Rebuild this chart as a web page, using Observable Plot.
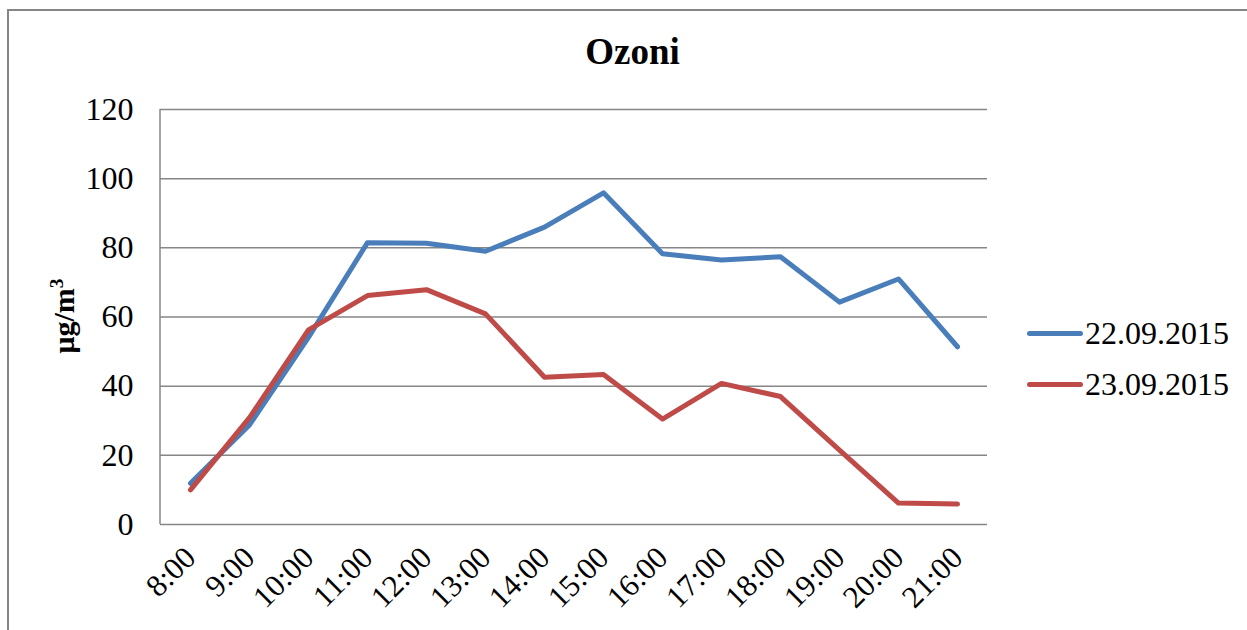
<!DOCTYPE html>
<html>
<head>
<meta charset="utf-8">
<script src="https://cdn.jsdelivr.net/npm/d3@7"></script>
<script src="https://cdn.jsdelivr.net/npm/@observablehq/plot@0.6"></script>
<style>
  html, body { margin: 0; padding: 0; background: #fff; }
  #wrap { position: relative; width: 1247px; height: 630px; overflow: hidden; font-family: "Liberation Serif", "Times New Roman", serif; }
  #border { position: absolute; left: 7px; top: 9px; width: 1300px; height: 700px; border-left: 2px solid #868686; border-top: 2px solid #868686; box-sizing: border-box; }
  #title { position: absolute; left: 0; width: 1265px; top: 30px; text-align: center; font-weight: bold; font-size: 37px; color: #000; }
  #ylabel { position: absolute; left: 64px; top: 316px; transform: translate(-50%, -50%) rotate(-90deg); font-weight: bold; font-size: 30px; white-space: nowrap; line-height: 1; }
  #ylabel sup { font-size: 0.65em; vertical-align: 0.55em; line-height: 0; }
  #legend { position: absolute; left: 1027px; top: 308px; font-size: 32px; }
  .li { display: flex; align-items: center; height: 51px; }
  .sw { width: 56px; height: 5px; border-radius: 3px; margin-right: 2px; }
  #chart { position: absolute; left: 0; top: 0; }
</style>
</head>
<body>
<div id="wrap">
  <div id="border"></div>
  <div id="chart"></div>
  <div id="title">Ozoni</div>
  <div id="ylabel">μg/m<sup>3</sup></div>
  <div id="legend"></div>
</div>
<script>
const hours = ["8:00","9:00","10:00","11:00","12:00","13:00","14:00","15:00","16:00","17:00","18:00","19:00","20:00","21:00"];
const seriesNames = ["22.09.2015", "23.09.2015"];
const values22 = [11.9, 28.8, 54.1, 81.5, 81.3, 79.0, 86.0, 95.9, 78.3, 76.5, 77.4, 64.3, 71.0, 51.4];
const values23 = [10.0, 30.9, 56.3, 66.2, 67.9, 60.9, 42.6, 43.4, 30.5, 40.8, 37.0, 21.5, 6.2, 5.9];
const yTicks = [0, 20, 40, 60, 80, 100, 120];
const colors = ["#4a7ebb", "#be4b48"];

const data = [];
hours.forEach((h, i) => {
  data.push({hour: h, value: values22[i], series: seriesNames[0]});
  data.push({hour: h, value: values23[i], series: seriesNames[1]});
});

const chart = Plot.plot({
  width: 1247,
  height: 630,
  marginLeft: 160,
  marginRight: 260,
  marginTop: 109,
  marginBottom: 106,
  style: {fontFamily: "'Liberation Serif', 'Times New Roman', serif", color: "#000", background: "transparent"},
  x: {type: "point", domain: hours, padding: 0.5, label: null},
  y: {domain: [0, 120], ticks: yTicks, label: null},
  color: {domain: seriesNames, range: colors},
  marks: [
    Plot.gridY(yTicks, {stroke: "#868686", strokeOpacity: 1, strokeWidth: 1.5}),
    Plot.axisY({ticks: yTicks, tickSize: 0, tickPadding: 27, fontSize: 32, label: null}),
    Plot.axisX({tickSize: 0, tickRotate: -45, tickPadding: 28, fontSize: 31, label: null}),
    Plot.line(data, {x: "hour", y: "value", z: "series", stroke: "series", strokeWidth: 5, strokeLinejoin: "round", strokeLinecap: "round"})
  ]
});
document.getElementById("chart").appendChild(chart);
// left axis line
d3.select(chart).append("line").attr("x1", 160).attr("x2", 160).attr("y1", 109).attr("y2", 524)
  .attr("stroke", "#868686").attr("stroke-width", 1.5);

const legend = document.getElementById("legend");
seriesNames.forEach((s, i) => {
  const row = document.createElement("div");
  row.className = "li";
  const sw = document.createElement("div");
  sw.className = "sw";
  sw.style.background = colors[i];
  const t = document.createElement("span");
  t.textContent = s;
  row.appendChild(sw); row.appendChild(t);
  legend.appendChild(row);
});
</script>
</body>
</html>
